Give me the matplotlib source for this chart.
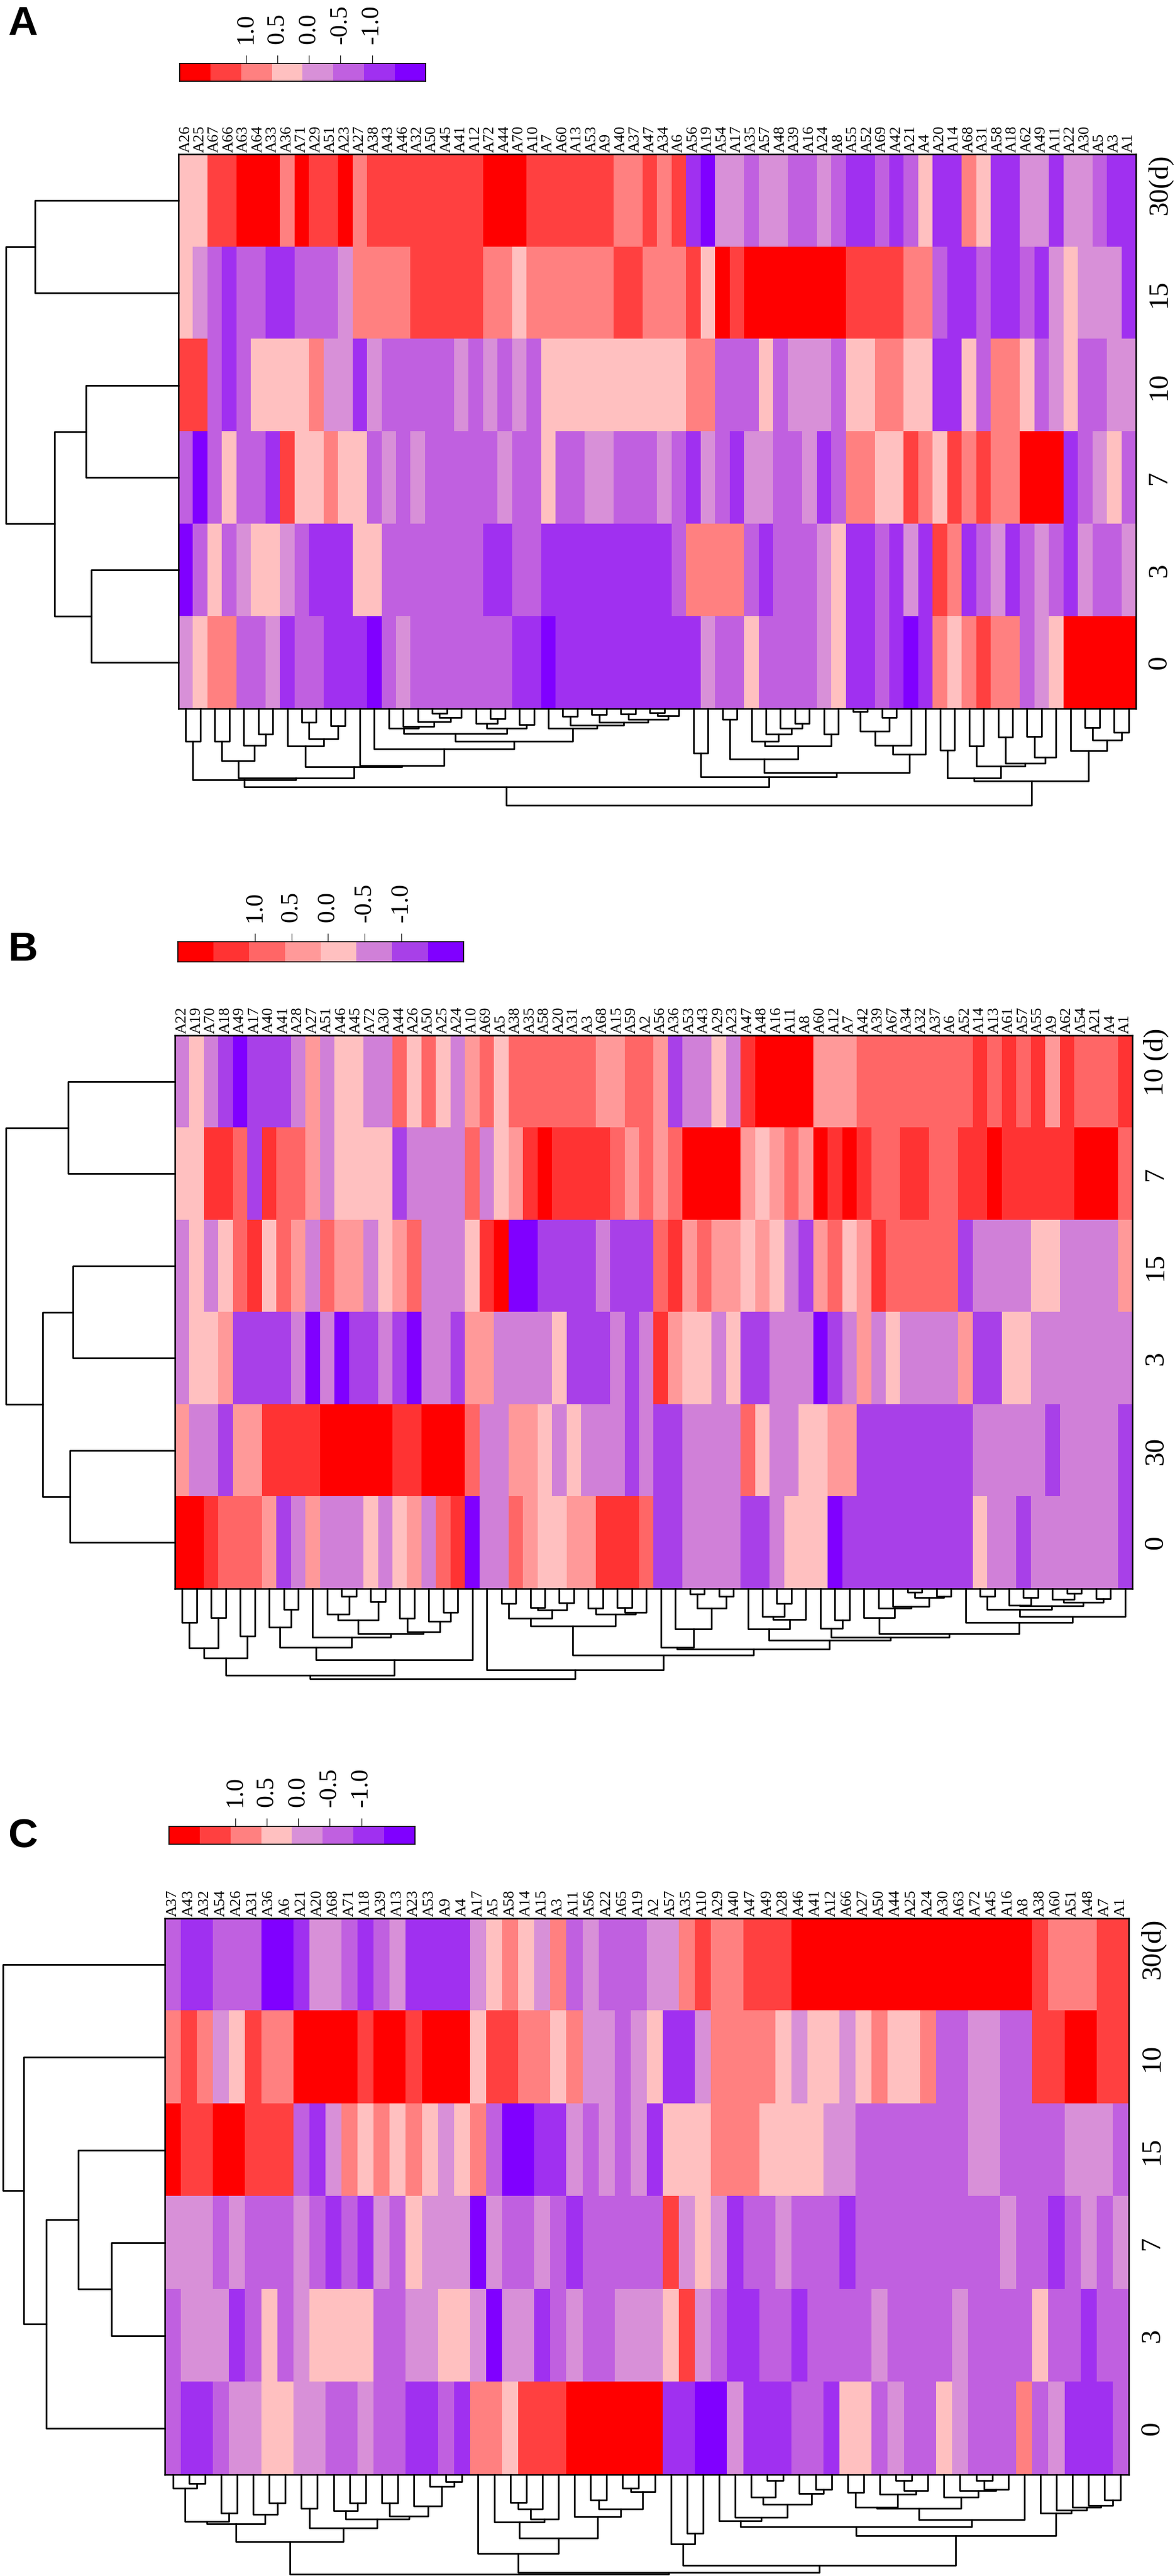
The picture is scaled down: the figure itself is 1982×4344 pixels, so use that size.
import numpy as np
import matplotlib
matplotlib.use('Agg')
import matplotlib.pyplot as plt
from matplotlib.colors import ListedColormap
from matplotlib.transforms import blended_transform_factory

# ---------------- data: panel A ----------------
a_cols = ['A26', 'A25', 'A67', 'A66', 'A63', 'A64', 'A33', 'A36', 'A71', 'A29',
          'A51', 'A23', 'A27', 'A38', 'A43', 'A46', 'A32', 'A50', 'A45', 'A41',
          'A12', 'A72', 'A44', 'A70', 'A10', 'A7', 'A60', 'A13', 'A53', 'A9',
          'A40', 'A37', 'A47', 'A34', 'A6', 'A56', 'A19', 'A54', 'A17', 'A35',
          'A57', 'A48', 'A39', 'A16', 'A24', 'A8', 'A55', 'A52', 'A69', 'A42',
          'A21', 'A4', 'A20', 'A14', 'A68', 'A31', 'A58', 'A18', 'A62', 'A49',
          'A11', 'A22', 'A30', 'A5', 'A3', 'A1']
a_rows = ['30(d)', '15', '10', '7', '3', '0']
# colour level of each cell (0 = highest / red ... 7 = lowest / violet)
a_d30 = [3,3,1,1,0,0,0,2,0,1, 1,0,2,1,1,1,1,1,1,1, 1,0,0,0,1,1,1,1,1,1,
         2,2,1,2,1,6,7,4,4,5, 4,4,5,5,4,5,6,6,5,6, 5,3,6,6,2,3,6,6,4,4, 6,4,4,5,6,6]
a_d15 = [3,4,5,6,5,5,6,6,5,5, 5,4,2,2,2,2,1,1,1,1, 1,2,2,3,2,2,2,2,2,2,
         1,1,2,2,2,1,3,0,1,0, 0,0,0,0,0,0,1,1,1,1, 2,2,5,6,6,5,6,6,5,6, 4,3,4,4,4,6]
a_d10 = [1,1,5,6,5,3,3,3,3,2, 4,4,6,4,5,5,5,5,5,4, 5,4,5,4,5,3,3,3,3,3,
         3,3,3,3,3,2,2,5,5,5, 3,5,4,4,4,5,3,3,2,2, 3,3,6,6,3,5,2,2,3,5, 4,3,5,5,4,4]
a_d7 = [5,7,5,3,5,5,6,1,3,3, 2,3,3,5,4,5,4,5,5,5, 5,5,4,5,5,3,5,5,4,4,
        5,5,5,4,5,6,4,5,6,4, 4,5,5,4,6,5,2,2,3,3, 1,2,3,1,2,1,2,2,0,0, 0,6,5,4,3,5]
a_d3 = [7,5,3,5,4,3,3,4,5,6, 6,6,3,3,5,5,5,5,5,5, 5,6,6,5,5,6,6,6,6,6,
        6,6,6,6,5,2,2,2,2,5, 6,5,5,5,4,3,6,6,5,6, 4,6,1,2,6,5,4,6,5,4, 5,6,4,5,5,4]
a_d0 = [4,3,2,2,5,5,4,6,5,5, 6,6,6,7,5,4,5,5,5,5, 5,5,5,6,6,7,6,6,6,6,
        6,6,6,6,6,6,4,5,5,3, 5,5,5,5,4,3,6,6,5,6, 7,6,2,3,2,1,2,2,5,4, 3,0,0,0,0,0]

# trees: (left, right, merge height in px); leaves are 1-based positions
a_row_tree = ((1, 2, 242), ((3, 4, 156), (5, 6, 147), 209), 291)

a_p = ((3, 4, 55), (5, (6, 7, 43), 62), 88)
a_r = (8, ((9, 10, 23), (11, 12, 29), 51), 63)
a_v1 = (15, (16, (17, ((18, 19, 8), 20, 15), 22), 30), 33)
a_v2 = ((21, (22, 23, 17), 25), (24, 25, 27), 33)
a_w2 = ((27, 28, 13), ((29, 30, 10), ((31, 32, 9), ((33, 34, 7), 35, 12), 18), 23), 28)
a_w = (26, a_w2, 33)
a_u = ((a_v1, a_v2, 42), a_w, 55)
a_s = (13, (14, a_u, 68), 96)
a_ll = ((1, 2, 55), (a_p, (a_r, a_s, 98), 117), 120)
a_m2a = ((38, 39, 18), ((40, (41, (42, (43, 44, 25), 33), 43), 55), (45, 46, 43), 63), 85)
a_m2b = ((((47, 48, 5), (49, 50, 15), 38), 51, 62), 52, 77)
a_lr = ((36, 37, 75), (a_m2a, a_m2b, 108), 115)
a_ra = ((53, 54, 70), ((55, 56, 63), ((57, 58, 48), ((59, 60, 47), 61, 82), 92), 97), 117)
a_rb = (62, ((63, 64, 32), (65, 66, 40), 53), 71)
a_col_tree = ((a_ll, a_lr, 132), (a_ra, a_rb, 122), 163)

# ---------------- data: panel B ----------------
b_cols = ['A22', 'A19', 'A70', 'A18', 'A49', 'A17', 'A40', 'A41', 'A28', 'A27',
          'A51', 'A46', 'A45', 'A72', 'A30', 'A44', 'A26', 'A50', 'A25', 'A24',
          'A10', 'A69', 'A5', 'A38', 'A35', 'A58', 'A20', 'A31', 'A3', 'A68',
          'A15', 'A59', 'A2', 'A56', 'A36', 'A53', 'A43', 'A29', 'A23', 'A47',
          'A48', 'A16', 'A11', 'A8', 'A60', 'A12', 'A7', 'A42', 'A39', 'A67',
          'A34', 'A32', 'A37', 'A6', 'A52', 'A14', 'A13', 'A61', 'A57', 'A55',
          'A9', 'A62', 'A54', 'A21', 'A4', 'A1']
b_rows = ['10 (d)', '7', '15', '3', '30', '0']
b_d10 = [5,4,5,6,7,6,6,6,5,3, 5,4,4,5,5,2,4,2,4,5, 3,2,4,2,2,2,2,2,2,3,
         3,2,2,3,6,5,5,4,5,1, 0,0,0,0,3,3,3,2,2,2, 2,2,2,2,2,1,2,1,2,1, 3,1,2,2,2,1]
b_d7 = [4,4,1,1,2,6,1,2,2,3, 5,4,4,4,4,6,5,5,5,5, 2,5,4,3,1,0,1,1,1,1,
        2,3,2,3,2,0,0,0,0,3, 4,3,2,3,0,1,0,1,2,2, 1,1,2,2,1,1,0,1,1,1, 1,1,0,0,0,2]
b_d15 = [5,4,5,4,2,1,4,2,3,5, 2,3,3,5,4,3,2,5,5,5, 4,1,0,7,7,6,6,6,6,5,
         6,6,6,2,1,3,2,3,3,4, 3,4,5,6,3,2,4,3,1,2, 2,2,2,2,6,5,5,5,5,4, 4,5,5,5,5,3]
b_d3 = [5,4,4,3,6,6,6,6,5,7, 5,7,6,6,5,6,7,5,5,6, 3,3,5,5,5,5,4,6,6,6,
        5,6,5,1,3,4,4,5,4,6, 6,5,5,5,7,6,5,3,5,4, 5,5,5,5,3,6,6,4,4,5, 5,5,5,5,5,5]
b_d30 = [3,5,5,6,3,3,1,1,1,1, 0,0,0,0,0,1,1,0,0,0, 2,5,5,3,3,4,5,4,5,5,
         5,6,5,6,6,5,5,5,5,2, 4,5,5,4,4,3,3,6,6,6, 6,6,6,6,6,5,5,5,5,5, 6,5,5,5,5,6]
b_d0 = [0,0,1,2,2,2,3,6,5,3, 5,5,5,4,5,4,3,5,2,1, 7,5,5,2,3,4,4,3,3,1,
        1,1,2,6,6,5,5,5,5,6, 6,5,4,4,4,7,6,6,6,6, 6,6,6,6,6,4,5,5,6,5, 5,5,5,5,5,6]

b_row_tree = ((1, 2, 180), ((3, 4, 172), (5, 6, 177), 223), 285)

b_la = (((1, 2, 57), (3, 4, 49), 100), (5, 6, 80), 117)
b_ld = (7, (8, 9, 35), 65)
b_lg = ((11, (12, 13, 13), 43), (14, 15, 22), 53)
b_lh = ((16, 17, 50), (18, (19, 20, 40), 55), 73)
b_le = (10, (b_lg, b_lh, 76), 82)
b_l = (b_la, ((b_ld, b_le, 99), 21, 120), 146)
b_ma = (((23, 24, 25), ((25, 26, 32), (27, 28, 24), 36), 50),
        ((29, 30, 33), ((31, 32, 32), 33, 40), 43), 63)
b_mb = (34, (35, ((36, 37, 9), (38, 39, 13), 33), 68), 99)
b_n958 = (40, ((41, (42, 43, 25), 47), 44, 52), 68)
b_n1068 = (45, (46, 47, 53), 67)
b_n1146 = (48, (49, (50, ((51, 52, 6), (53, 54, 13), 15), 30), 33), 49)
b_r5865 = ((58, (59, 60, 15), 28), ((61, (62, 63, 8), 18), (64, 65, 17), 23), 29)
b_n1370 = (55, (((56, 57, 13), b_r5865, 35), 66, 47), 57)
b_n1163 = (b_n1068, (b_n1146, b_n1370, 76), 82)
b_n940 = (b_mb, (b_n958, b_n1163, 87), 102)
b_col_tree = (b_l, (22, (b_ma, b_n940, 112), 137), 152)

# ---------------- data: panel C ----------------
c_cols = ['A37', 'A43', 'A32', 'A54', 'A26', 'A31', 'A36', 'A6', 'A21', 'A20',
          'A68', 'A71', 'A18', 'A39', 'A13', 'A23', 'A53', 'A9', 'A4', 'A17',
          'A5', 'A58', 'A14', 'A15', 'A3', 'A11', 'A56', 'A22', 'A65', 'A19',
          'A2', 'A57', 'A35', 'A10', 'A29', 'A40', 'A47', 'A49', 'A28', 'A46',
          'A41', 'A12', 'A66', 'A27', 'A50', 'A44', 'A25', 'A24', 'A30', 'A63',
          'A72', 'A45', 'A16', 'A8', 'A38', 'A60', 'A51', 'A48', 'A7', 'A1']
c_rows = ['30(d)', '10', '15', '7', '3', '0']
c_d30 = [5,6,6,5,5,5,7,7,6,4, 4,5,6,5,4,6,6,6,6,4, 3,2,3,4,2,5,4,5,5,5,
         4,4,2,1,2,2,1,1,1,0, 0,0,0,0,0,0,0,0,0,0, 0,0,0,0,1,2,2,2,1,1]
c_d10 = [2,1,2,4,3,1,2,2,0,0, 0,0,1,0,0,1,0,0,0,3, 1,1,2,2,3,2,4,4,5,4,
         3,6,6,4,2,2,2,2,3,4, 3,3,4,3,2,3,3,2,5,5, 4,4,5,5,1,1,0,0,1,1]
c_d15 = [0,1,1,0,0,1,1,1,5,6, 4,2,3,2,3,2,3,4,3,2, 5,7,7,6,6,4,5,4,5,4,
         6,3,3,3,2,2,2,3,3,3, 3,4,4,5,5,5,5,5,5,5, 4,4,5,5,5,5,4,4,4,5]
c_d7 = [4,4,4,5,4,5,5,5,4,5, 6,5,6,4,5,3,4,4,4,7, 4,5,5,4,5,6,5,5,5,5,
        5,1,4,3,4,6,5,5,4,5, 5,5,6,5,5,5,5,5,5,5, 5,5,4,5,5,6,5,4,5,4]
c_d3 = [5,4,4,4,6,5,3,5,4,3, 3,3,3,5,5,4,4,3,3,4, 7,4,4,6,5,4,5,5,4,4,
        4,3,1,4,5,6,6,5,5,6, 5,5,5,5,4,5,5,5,5,4, 5,5,5,5,3,5,5,6,5,5]
c_d0 = [5,6,6,5,4,4,3,3,4,4, 5,5,4,5,5,6,6,5,6,2, 2,3,1,1,1,0,0,0,0,0,
        0,6,6,7,7,4,6,6,6,5, 5,6,3,3,5,4,5,5,3,4, 5,5,5,2,5,4,6,6,6,5]

c_row_tree = (1, (2, ((3, (4, 5, 90), 146), 6, 200), 238), 273)

c_cl1 = (((1, (2, 3, 15), 23), (4, 5, 65), 79), (6, (7, 8, 48), 67), 83)
c_cl2 = ((9, 10, 57),
         ((11, (12, 13, 48), 61), ((14, 15, 48), (16, (17, (18, 19, 12), 20), 53), 70), 75), 90)
c_cma = (21, (((22, 23, 47), 24, 58), 25, 75), 80)
c_cmb = (26, ((27, 28, 43), ((29, 30, 23), 31, 29), 58), 71)
c_cm = (20, (c_cma, c_cmb, 107), 133)
c_cra = (32, (33, 34, 99), 117)
c_crb1 = (35, (36, ((37, (38, 39, 10), 38), (40, (41, 42, 25), 32), 50), 72), 78)
c_n1155 = ((43, 44, 30), (45, ((46, 47, 10), 48, 27), 33), 55)
c_n1290 = (49, (50, ((51, 52, 10), 53, 25), 27), 38)
c_crb2 = ((c_n1155, c_n1290, 57), 54, 76)
c_crc = (55, (56, (57, (58, (59, 60, 43), 52), 55), 60), 65)
c_cr2 = (c_cra, ((c_crb1, c_crb2, 88), c_crc, 103), 153)
c_col_tree = ((c_cl1, c_cl2, 113), (c_cm, c_cr2, 165), 168)

cb_ticks = [1.0, 0.5, 0.0, -0.5, -1.0]
cb_ticklabels = ['1.0', '0.5', '0.0', '-0.5', '-1.0']
cb_range = (2.05, -1.85)

pal_ac = ['#FF0000', '#FF4040', '#FF8080', '#FFC0C0', '#D890D8', '#C060E0', '#A030F0', '#8000FF']
pal_b = ['#FF0000', '#FF3333', '#FF6666', '#FF9999', '#FFC0C0', '#D080D8', '#A840E8', '#8000FF']

# ---------------- figure ----------------
W, H = 1983, 4344
fig = plt.figure(figsize=(W / 100, H / 100), dpi=100)
serif = 'Liberation Serif'
LW = 2.0


def box(left, top, right, bottom):
    return [left / W, 1 - bottom / H, (right - left) / W, (bottom - top) / H]


def draw_tree(ax, node, vertical):
    if isinstance(node, int):
        return node - 0.5, 0.0
    a, b, h = node
    pa, ha = draw_tree(ax, a, vertical)
    pb, hb = draw_tree(ax, b, vertical)
    pos = [pa, pa, pb, pb]
    hts = [ha, h, h, hb]
    if vertical:
        ax.plot(pos, hts, color='black', lw=LW, clip_on=False)
    else:
        ax.plot(hts, pos, color='black', lw=LW, clip_on=False)
    return (pa + pb) / 2, h


def panel(letter, g, cols, rows, mat, pal, col_tree, row_tree):
    cmap = ListedColormap(pal)
    hl, ht, hr, hb = g['heat']
    ncol, nrow = len(cols), len(rows)

    fig.text(13 / W, 1 - g['letter_top'] / H, letter, fontsize=50, fontweight='bold',
             family='Liberation Sans', ha='left', va='top')

    # colour key
    cl, ct, cr, cbm = g['key']
    cax = fig.add_axes(box(cl, ct, cr, cbm))
    cax.imshow(np.arange(8)[None, :], cmap=cmap, vmin=-0.5, vmax=7.5, aspect='auto',
               interpolation='nearest', extent=(cb_range[0], cb_range[1], 0, 1))
    cax.set_xlim(*cb_range)
    cax.set_xticks(cb_ticks)
    cax.set_xticklabels(cb_ticklabels, family=serif, fontsize=30)
    cax.xaxis.tick_top()
    cax.set_yticks([])
    cax.tick_params(axis='x', length=10, width=0.8, pad=14, labelrotation=90)
    for s in cax.spines.values():
        s.set_linewidth(1.2)

    # heat map
    ax = fig.add_axes(box(hl, ht, hr, hb))
    ax.imshow(np.array(mat), cmap=cmap, vmin=-0.5, vmax=7.5, aspect='auto',
              interpolation='nearest', extent=(0, ncol, nrow, 0))
    ax.set_xticks(np.arange(ncol) + 0.5)
    ax.set_xticklabels(cols, family=serif, fontsize=19)
    ax.xaxis.tick_top()
    ax.tick_params(axis='x', length=0, pad=2, labelrotation=90)
    ax.set_yticks([])
    for s in ax.spines.values():
        s.set_linewidth(1.8)

    # row labels: the number sits centred on its row, a "(d)" suffix runs upward
    trans = blended_transform_factory(ax.transAxes, ax.transData)
    xlab = 1 + 40 / (hr - hl)
    row_px = (hb - ht) / nrow
    for r, lab in enumerate(rows):
        num = lab.split('(')[0].strip()
        y = r + 0.5 + 12 * len(num) / row_px
        ax.text(xlab, y, lab, transform=trans, rotation=90, rotation_mode='anchor',
                ha='left', va='center', family=serif, fontsize=34)

    # column dendrogram
    dh = g['col_dendro']
    dax = fig.add_axes(box(hl, hb, hr, hb + dh))
    draw_tree(dax, col_tree, True)
    dax.set_xlim(0, ncol)
    dax.set_ylim(dh, 0)
    dax.axis('off')

    # row dendrogram
    rax = fig.add_axes(box(0, ht, hl, hb))
    draw_tree(rax, row_tree, False)
    rax.set_xlim(hl, 0)
    rax.set_ylim(nrow, 0)
    rax.axis('off')


geom_a = dict(letter_top=9, key=(303, 107, 718, 137), heat=(301, 260, 1916, 1195), col_dendro=166)
geom_b = dict(letter_top=1570, key=(300, 1588, 782, 1622), heat=(295, 1746, 1910, 2679), col_dendro=155)
geom_c = dict(letter_top=3065, key=(285, 3080, 700, 3110), heat=(278, 3235, 1904, 4173), col_dendro=168)

panel('A', geom_a, a_cols, a_rows, [a_d30, a_d15, a_d10, a_d7, a_d3, a_d0], pal_ac, a_col_tree, a_row_tree)
panel('B', geom_b, b_cols, b_rows, [b_d10, b_d7, b_d15, b_d3, b_d30, b_d0], pal_b, b_col_tree, b_row_tree)
panel('C', geom_c, c_cols, c_rows, [c_d30, c_d10, c_d15, c_d7, c_d3, c_d0], pal_ac, c_col_tree, c_row_tree)

fig.savefig('out.png', dpi=100)
